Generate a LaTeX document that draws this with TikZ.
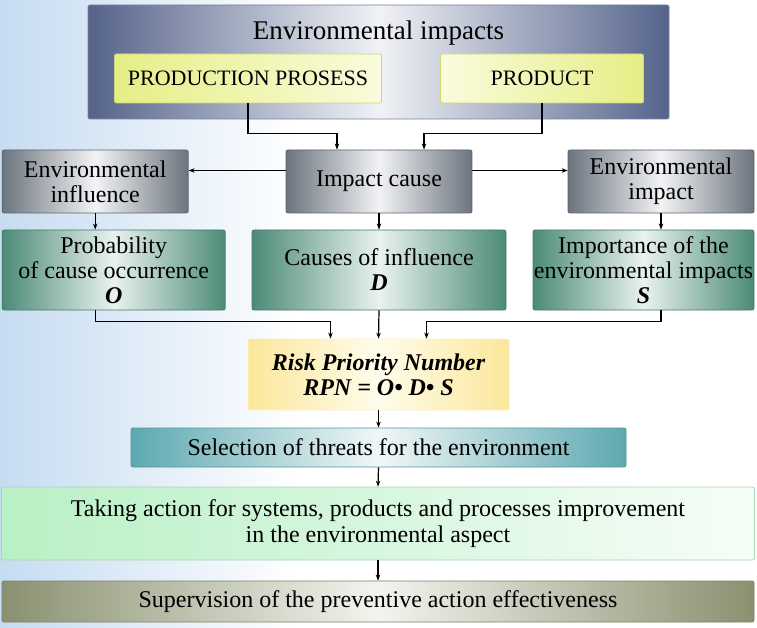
\documentclass[tikz,border=0pt]{standalone}
\usepackage{fontspec}
\setmainfont{Liberation Serif}
\usetikzlibrary{arrows.meta}
\definecolor{bgblue}{HTML}{C6DCF1}
\definecolor{slatedark}{HTML}{55638A}
\definecolor{slatelight}{HTML}{F0F2F6}
\definecolor{yelA}{HTML}{E6EE86}
\definecolor{yelB}{HTML}{F9FBDC}
\definecolor{greydark}{HTML}{6C747E}
\definecolor{greylight}{HTML}{F2F3F5}
\definecolor{greendark}{HTML}{4C8A77}
\definecolor{greenlight}{HTML}{E9F2EF}
\definecolor{rpndark}{HTML}{FBE79A}
\definecolor{rpnlight}{HTML}{FFFCEC}
\definecolor{tealdark}{HTML}{5DA8B0}
\definecolor{teallight}{HTML}{F0F7F8}
\definecolor{mintdark}{HTML}{B9F0C5}
\definecolor{mintlight}{HTML}{F6FDF8}
\definecolor{olivedark}{HTML}{8A9170}
\definecolor{olivelight}{HTML}{F3F4EF}
\tikzset{
  box/.style={rounded corners=2pt, inner sep=0pt, align=center,
    font=\fontsize{24}{25}\selectfont, line width=0.8pt},
  topbox/.style={box, draw=slatedark!80, left color=slatedark, right color=slatedark, middle color=slatelight},
  yelbox/.style={box, draw=yelA!90!black, font=\fontsize{22}{24}\selectfont},
  greybox/.style={box, draw=greydark!85!black, left color=greydark, right color=greydark, middle color=greylight},
  greenbox/.style={box, draw=greendark!90!black, left color=greendark, right color=greendark, middle color=greenlight},
  rpnbox/.style={box, draw=rpndark!60, left color=rpndark, right color=rpndark, middle color=rpnlight},
  tealbox/.style={box, draw=tealdark!90!black, left color=tealdark, right color=tealdark, middle color=teallight},
  mintbox/.style={box, draw=mintdark!90!black, left color=mintdark, right color=mintlight},
  olivebox/.style={box, draw=olivedark!90!black, left color=olivedark, right color=olivedark, middle color=olivelight},
  arr/.style={line width=1.2pt, -{Stealth[length=6pt,width=4.5pt]}},
}
\begin{document}
\begin{tikzpicture}[x=1pt,y=-1pt]
% page background
\useasboundingbox (0,0) rectangle (757,628);
\fill[white] (0,0) rectangle (757,628);
\shade[left color=bgblue, right color=white] (0,0) rectangle (300,628);

% top block
\node[topbox, minimum width=581pt, minimum height=114pt] (env) at (378.5,62) {};
\node[font=\fontsize{27}{30}\selectfont, inner sep=0pt] (title) at (378.5,33) {Environmental impacts};
\node[yelbox, left color=yelA, right color=yelB, minimum width=267pt, minimum height=49pt] (pp) at (248,78.5) {PRODUCTION PROSESS};
\node[yelbox, left color=yelB, right color=yelA, minimum width=203pt, minimum height=49pt] (prod) at (542,78.5) {PRODUCT};

% second row
\node[greybox, minimum width=186pt, minimum height=63pt] (ei) at (95.2,181.5) {Environmental\\influence};
\node[greybox, minimum width=186pt, minimum height=63pt] (ic) at (379,181.5) {Impact cause};
\node[greybox, minimum width=186pt, minimum height=63pt] (ie) at (661,181.5) {Environmental\\impact};

% factor row
\node[greenbox, minimum width=223pt, minimum height=80pt] (g1) at (113.7,270) {Probability\\of cause occurrence\\\textbf{\textit{O}}};
\node[greenbox, minimum width=254pt, minimum height=80pt] (g2) at (379,270) {Causes of influence\\\textbf{\textit{D}}};
\node[greenbox, minimum width=221pt, minimum height=80pt] (g3) at (643.5,270) {Importance of the\\environmental impacts\\\textbf{\textit{S}}};

% result chain
\node[rpnbox, minimum width=261pt, minimum height=71pt, font=\fontsize{24}{25}\selectfont\bfseries\itshape] (rpn) at (378.5,374.5) {Risk Priority Number\\RPN = O• D• S};
\node[tealbox, minimum width=495pt, minimum height=39pt] (sel) at (378.5,447.5) {Selection of threats for the environment};
\node[mintbox, minimum width=753pt, minimum height=73pt, font=\fontsize{24}{26.5}\selectfont] (act) at (378,523.5) {Taking action for systems, products and processes improvement\\in the environmental aspect};
\node[olivebox, minimum width=752pt, minimum height=41pt] (sup) at (378,601.5) {Supervision of the preventive action effectiveness};

% connectors
\draw[arr] (pp.south) -- ++(0,30) -| ([xshift=-42pt]ic.north);
\draw[arr] (prod.south) -- ++(0,30) -| ([xshift=45pt]ic.north);
\draw[arr] ([yshift=11pt]ic.west) -- ([yshift=11pt]ei.east);
\draw[arr] ([yshift=11pt]ic.east) -- ([yshift=11pt]ie.west);
\draw[arr] (ei.south) -- (ei.south |- g1.north);
\draw[arr] (ic.south) -- (g2.north);
\draw[arr] (ie.south) -- (ie.south |- g3.north);
\draw[arr] (g1.south -| ei.south) -- ++(0,11) -| ([xshift=-48pt]rpn.north);
\draw[arr] (g2.south) -- (rpn.north);
\draw[arr] (g3.south -| ie.south) -- ++(0,11) -| ([xshift=48pt]rpn.north);
\draw[arr] (rpn.south) -- (sel.north);
\draw[arr] (sel.south) -- (act.north);
\draw[arr] (act.south) -- (sup.north);
\end{tikzpicture}
\end{document}
